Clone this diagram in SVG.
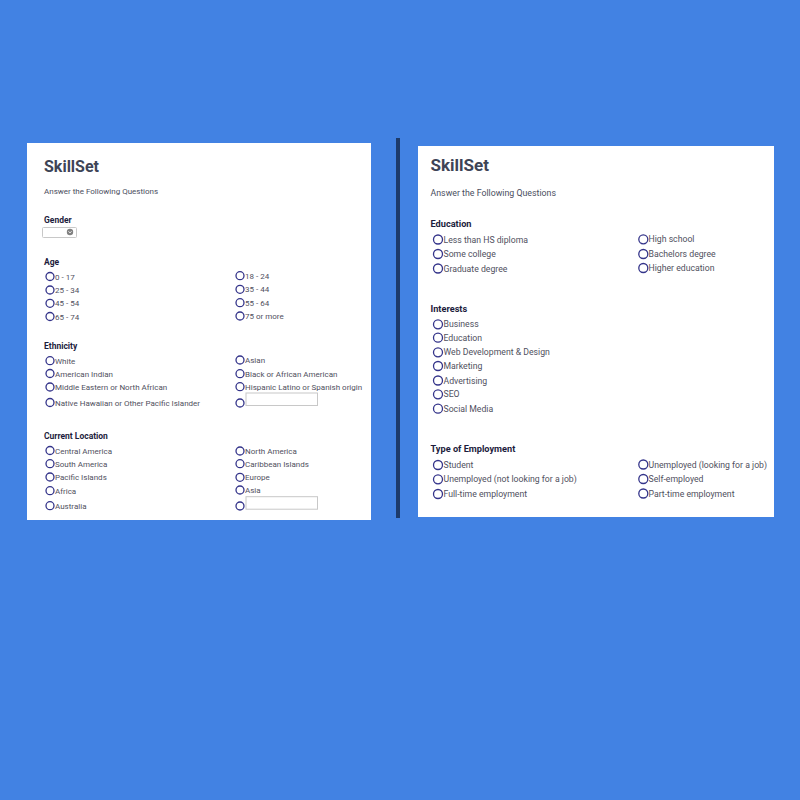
<svg xmlns="http://www.w3.org/2000/svg" width="800" height="800" viewBox="0 0 800 800">
<style>
.t{font-family:Roboto,"Liberation Sans",sans-serif;font-weight:700;fill:#3e4456}
.sub{font-family:Roboto,"Liberation Sans",sans-serif;fill:#4a4e5e}
.h{font-family:Roboto,"Liberation Sans",sans-serif;font-weight:700;fill:#1c1c3c}
.o{font-family:Roboto,"Liberation Sans",sans-serif;fill:#50505e}
.L .t{font-size:16px}.L .sub{font-size:8px}.L .h{font-size:8.5px}.L .o{font-size:8px}
.R .t{font-size:17px}.R .sub{font-size:8.8px}.R .h{font-size:9.2px}.R .o{font-size:8.7px}
.r{fill:#fff;stroke:#34348a;stroke-width:1.3}
.box{fill:#fff;stroke:#c8c8c8;stroke-width:1}
</style>
<rect width="800" height="800" fill="#4282e3"/>
<rect x="396" y="138" width="4" height="380" fill="#1d3a6a"/>
<g id="left-form" class="L">
<rect x="27" y="143" width="344" height="377" fill="#fff"/>
<text class="t" x="44" y="172">SkillSet</text>
<text class="sub" x="44" y="194">Answer the Following Questions</text>
<g id="gender">
<text class="h" x="44" y="223">Gender</text>
<rect class="box" x="42.5" y="227.5" width="34" height="10" rx="1"/>
<circle cx="70" cy="232" r="3.2" fill="#808080"/>
<path d="M68.5 231.3 L70 232.9 L71.5 231.3" fill="none" stroke="#fff" stroke-width="0.9"/>
</g>
<g id="age">
<text class="h" x="44" y="265">Age</text>
<circle class="r" cx="50" cy="276.5" r="4"/><text class="o" x="55" y="279.5">0 - 17</text>
<circle class="r" cx="50" cy="290" r="4"/><text class="o" x="55" y="293">25 - 34</text>
<circle class="r" cx="50" cy="303.3" r="4"/><text class="o" x="55" y="306.3">45 - 54</text>
<circle class="r" cx="50" cy="316.5" r="4"/><text class="o" x="55" y="319.5">65 - 74</text>
<circle class="r" cx="240" cy="275.7" r="4"/><text class="o" x="245" y="278.7">18 - 24</text>
<circle class="r" cx="240" cy="289.3" r="4"/><text class="o" x="245" y="292.3">35 - 44</text>
<circle class="r" cx="240" cy="302.7" r="4"/><text class="o" x="245" y="305.7">55 - 64</text>
<circle class="r" cx="240" cy="316" r="4"/><text class="o" x="245" y="319">75 or more</text>
</g>
<g id="ethnicity">
<text class="h" x="44" y="349">Ethnicity</text>
<circle class="r" cx="50" cy="360.7" r="4"/><text class="o" x="55" y="363.7">White</text>
<circle class="r" cx="50" cy="373.5" r="4"/><text class="o" x="55" y="376.5">American Indian</text>
<circle class="r" cx="50" cy="387" r="4"/><text class="o" x="55" y="390">Middle Eastern or North African</text>
<circle class="r" cx="50" cy="402.5" r="4"/><text class="o" x="55" y="405.5">Native Hawaiian or Other Pacific Islander</text>
<circle class="r" cx="240" cy="360" r="4"/><text class="o" x="245" y="363">Asian</text>
<circle class="r" cx="240" cy="373.7" r="4"/><text class="o" x="245" y="376.7">Black or African American</text>
<circle class="r" cx="240" cy="386.7" r="4"/><text class="o" x="245" y="389.7">Hispanic Latino or Spanish origin</text>
<circle class="r" cx="240" cy="403" r="4"/><rect class="box" x="246" y="393" width="71.5" height="12.5"/>
</g>
<g id="location">
<text class="h" x="44" y="439">Current Location</text>
<circle class="r" cx="50" cy="450.5" r="4"/><text class="o" x="55" y="453.5">Central America</text>
<circle class="r" cx="50" cy="463.7" r="4"/><text class="o" x="55" y="466.7">South America</text>
<circle class="r" cx="50" cy="477" r="4"/><text class="o" x="55" y="480">Pacific Islands</text>
<circle class="r" cx="50" cy="490.7" r="4"/><text class="o" x="55" y="493.7">Africa</text>
<circle class="r" cx="50" cy="505.7" r="4"/><text class="o" x="55" y="508.7">Australia</text>
<circle class="r" cx="240" cy="451" r="4"/><text class="o" x="245" y="454">North America</text>
<circle class="r" cx="240" cy="463.7" r="4"/><text class="o" x="245" y="466.7">Caribbean Islands</text>
<circle class="r" cx="240" cy="477.3" r="4"/><text class="o" x="245" y="480.3">Europe</text>
<circle class="r" cx="240" cy="490" r="4"/><text class="o" x="245" y="493">Asia</text>
<circle class="r" cx="240" cy="506" r="4"/><rect class="box" x="246" y="496.7" width="71.5" height="12.5"/>
</g>
</g>
<g id="right-form" class="R">
<rect x="418" y="146" width="356" height="371" fill="#fff"/>
<text class="t" x="430.5" y="171">SkillSet</text>
<text class="sub" x="430.5" y="195.5">Answer the Following Questions</text>
<g id="education">
<text class="h" x="430.5" y="226.5">Education</text>
<circle class="r" cx="438" cy="239.5" r="4.5"/><text class="o" x="443.5" y="242.5">Less than HS diploma</text>
<circle class="r" cx="438" cy="254" r="4.5"/><text class="o" x="443.5" y="257">Some college</text>
<circle class="r" cx="438" cy="268.5" r="4.5"/><text class="o" x="443.5" y="271.5">Graduate degree</text>
<circle class="r" cx="643.3" cy="239.3" r="4.5"/><text class="o" x="648.5" y="242.3">High school</text>
<circle class="r" cx="643.3" cy="254" r="4.5"/><text class="o" x="648.5" y="257">Bachelors degree</text>
<circle class="r" cx="643.3" cy="268" r="4.5"/><text class="o" x="648.5" y="271">Higher education</text>
</g>
<g id="interests">
<text class="h" x="430.5" y="312">Interests</text>
<circle class="r" cx="438" cy="324.3" r="4.5"/><text class="o" x="443.5" y="327.3">Business</text>
<circle class="r" cx="438" cy="337.7" r="4.5"/><text class="o" x="443.5" y="340.7">Education</text>
<circle class="r" cx="438" cy="352.3" r="4.5"/><text class="o" x="443.5" y="355.3">Web Development &amp; Design</text>
<circle class="r" cx="438" cy="366" r="4.5"/><text class="o" x="443.5" y="369">Marketing</text>
<circle class="r" cx="438" cy="380.5" r="4.5"/><text class="o" x="443.5" y="383.5">Advertising</text>
<circle class="r" cx="438" cy="394.3" r="4.5"/><text class="o" x="443.5" y="397.3">SEO</text>
<circle class="r" cx="438" cy="408.7" r="4.5"/><text class="o" x="443.5" y="411.7">Social Media</text>
</g>
<g id="employment">
<text class="h" x="430.5" y="452">Type of Employment</text>
<circle class="r" cx="438" cy="465" r="4.5"/><text class="o" x="443.5" y="468">Student</text>
<circle class="r" cx="438" cy="479.3" r="4.5"/><text class="o" x="443.5" y="482.3">Unemployed (not looking for a job)</text>
<circle class="r" cx="438" cy="494" r="4.5"/><text class="o" x="443.5" y="497">Full-time employment</text>
<circle class="r" cx="643.3" cy="464.5" r="4.5"/><text class="o" x="648.5" y="467.5">Unemployed (looking for a job)</text>
<circle class="r" cx="643.3" cy="479" r="4.5"/><text class="o" x="648.5" y="482">Self-employed</text>
<circle class="r" cx="643.3" cy="493.5" r="4.5"/><text class="o" x="648.5" y="496.5">Part-time employment</text>
</g>
</g>
</svg>
